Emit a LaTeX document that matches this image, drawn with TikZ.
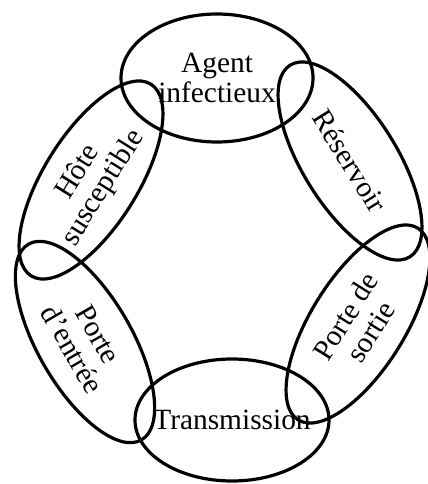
\documentclass[tikz,border=0pt]{standalone}
\usepackage{fontspec}
\setmainfont{Liberation Serif}
\usetikzlibrary{shapes.geometric}

\tikzset{
  maillon/.style={draw,ellipse,line width=3.2pt,inner sep=0pt,align=center,
    font=\fontsize{29.5}{30}\selectfont},
  maillonlong/.style={maillon,minimum width=226bp,minimum height=94bp},
}

\begin{document}
\begin{tikzpicture}[x=1bp,y=-1bp]
  \useasboundingbox (0,0) rectangle (427,484);
  % chaine de l'infection
  \node[maillon,minimum width=192bp,minimum height=128bp] (agent) at (217,78) {Agent\\infectieux};
  \node[maillonlong,rotate=-58] (reservoir) at (350,161) {Réservoir};
  \node[maillonlong,rotate=58] (sortie) at (358,324) {Porte de\\sortie};
  \node[maillon,inner xsep=-30bp,minimum width=194bp,minimum height=122bp] (transmission) at (232,420) {Transmission};
  \node[maillonlong,rotate=-60] (entree) at (85,342) {Porte\\d'entrée};
  \node[maillonlong,rotate=58] (hote) at (91,180) {Hôte\\susceptible};
\end{tikzpicture}
\end{document}
